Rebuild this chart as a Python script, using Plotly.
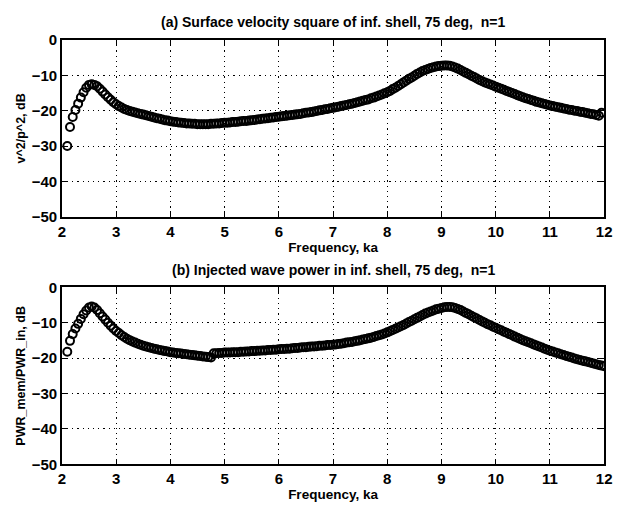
import plotly.graph_objects as go

# Frequency sweep (ka) shared by both panels
freq_ka = [
    2.10, 2.15, 2.20, 2.25, 2.30, 2.35, 2.40, 2.45, 2.50, 2.55,
    2.60, 2.65, 2.70, 2.75, 2.80, 2.85, 2.90, 2.95, 3.00, 3.05,
    3.10, 3.15, 3.20, 3.25, 3.30, 3.35, 3.40, 3.45, 3.50, 3.55,
    3.60, 3.65, 3.70, 3.75, 3.80, 3.85, 3.90, 3.95, 4.00, 4.05,
    4.10, 4.15, 4.20, 4.25, 4.30, 4.35, 4.40, 4.45, 4.50, 4.55,
    4.60, 4.65, 4.70, 4.75, 4.80, 4.85, 4.90, 4.95, 5.00, 5.05,
    5.10, 5.15, 5.20, 5.25, 5.30, 5.35, 5.40, 5.45, 5.50, 5.55,
    5.60, 5.65, 5.70, 5.75, 5.80, 5.85, 5.90, 5.95, 6.00, 6.05,
    6.10, 6.15, 6.20, 6.25, 6.30, 6.35, 6.40, 6.45, 6.50, 6.55,
    6.60, 6.65, 6.70, 6.75, 6.80, 6.85, 6.90, 6.95, 7.00, 7.05,
    7.10, 7.15, 7.20, 7.25, 7.30, 7.35, 7.40, 7.45, 7.50, 7.55,
    7.60, 7.65, 7.70, 7.75, 7.80, 7.85, 7.90, 7.95, 8.00, 8.05,
    8.10, 8.15, 8.20, 8.25, 8.30, 8.35, 8.40, 8.45, 8.50, 8.55,
    8.60, 8.65, 8.70, 8.75, 8.80, 8.85, 8.90, 8.95, 9.00, 9.05,
    9.10, 9.15, 9.20, 9.25, 9.30, 9.35, 9.40, 9.45, 9.50, 9.55,
    9.60, 9.65, 9.70, 9.75, 9.80, 9.85, 9.90, 9.95, 10.00, 10.05,
    10.10, 10.15, 10.20, 10.25, 10.30, 10.35, 10.40, 10.45, 10.50, 10.55,
    10.60, 10.65, 10.70, 10.75, 10.80, 10.85, 10.90, 10.95, 11.00, 11.05,
    11.10, 11.15, 11.20, 11.25, 11.30, 11.35, 11.40, 11.45, 11.50, 11.55,
    11.60, 11.65, 11.70, 11.75, 11.80, 11.85, 11.90, 11.95, 12.00,
]

# (a) surface velocity square, v^2/p^2 in dB (2.10 .. 11.95)
vel_sq_db = [
    -30.0, -24.6, -21.8, -19.8, -18.0, -16.3, -14.8, -13.5, -12.7, -12.5,
    -12.7, -13.1, -13.8, -14.6, -15.4, -16.2, -16.9, -17.6, -18.2, -18.7,
    -19.1, -19.5, -19.8, -20.1, -20.3, -20.5, -20.7, -20.9, -21.1, -21.3,
    -21.5, -21.7, -21.9, -22.1, -22.3, -22.5, -22.7, -22.8, -23.0, -23.1,
    -23.2, -23.3, -23.4, -23.5, -23.6, -23.6, -23.7, -23.7, -23.8, -23.8,
    -23.8, -23.8, -23.8, -23.7, -23.7, -23.6, -23.6, -23.5, -23.4, -23.4,
    -23.3, -23.2, -23.2, -23.1, -23.0, -22.9, -22.9, -22.8, -22.7, -22.6,
    -22.5, -22.4, -22.3, -22.2, -22.1, -22.0, -21.9, -21.8, -21.7, -21.6,
    -21.5, -21.4, -21.3, -21.2, -21.1, -21.0, -20.9, -20.7, -20.6, -20.5,
    -20.4, -20.2, -20.1, -19.9, -19.8, -19.6, -19.5, -19.3, -19.2, -19.0,
    -18.9, -18.7, -18.5, -18.4, -18.2, -18.0, -17.8, -17.6, -17.4, -17.2,
    -17.0, -16.8, -16.5, -16.3, -16.0, -15.7, -15.4, -15.1, -14.8, -14.4,
    -13.9, -13.5, -13.0, -12.5, -12.0, -11.5, -11.0, -10.6, -10.1, -9.6,
    -9.2, -8.8, -8.5, -8.2, -7.9, -7.7, -7.5, -7.4, -7.3, -7.2,
    -7.2, -7.3, -7.5, -7.8, -8.1, -8.5, -8.9, -9.3, -9.7, -10.1,
    -10.5, -10.9, -11.3, -11.7, -12.0, -12.3, -12.6, -12.9, -13.2, -13.5,
    -13.8, -14.1, -14.4, -14.7, -15.0, -15.3, -15.6, -15.9, -16.2, -16.5,
    -16.7, -17.0, -17.2, -17.5, -17.7, -17.9, -18.1, -18.3, -18.5, -18.7,
    -18.9, -19.0, -19.2, -19.4, -19.5, -19.7, -19.8, -20.0, -20.1, -20.3,
    -20.4, -20.6, -20.7, -20.9, -21.0, -21.2, -21.4, -20.6,
]

# (b) injected wave power, PWR_mem/PWR_in in dB (2.10 .. 12.00)
inj_pwr_db = [
    -18.2, -15.1, -13.2, -11.6, -10.3, -8.9, -7.6, -6.5, -5.7, -5.4,
    -5.7, -6.4, -7.3, -8.2, -9.1, -10.0, -10.8, -11.6, -12.3, -12.9,
    -13.5, -14.0, -14.5, -14.9, -15.3, -15.6, -15.9, -16.2, -16.5, -16.7,
    -16.9, -17.1, -17.3, -17.5, -17.7, -17.8, -18.0, -18.1, -18.3, -18.4,
    -18.5, -18.6, -18.7, -18.8, -18.9, -19.0, -19.1, -19.2, -19.3, -19.4,
    -19.5, -19.6, -19.7, -19.8, -18.6, -18.6, -18.5, -18.5, -18.4, -18.4,
    -18.4, -18.3, -18.3, -18.3, -18.2, -18.2, -18.1, -18.1, -18.0, -18.0,
    -17.9, -17.9, -17.8, -17.8, -17.7, -17.7, -17.6, -17.6, -17.5, -17.4,
    -17.4, -17.3, -17.3, -17.2, -17.1, -17.1, -17.0, -16.9, -16.9, -16.8,
    -16.7, -16.7, -16.6, -16.5, -16.5, -16.4, -16.3, -16.3, -16.2, -16.1,
    -16.0, -15.9, -15.8, -15.6, -15.5, -15.4, -15.2, -15.1, -14.9, -14.7,
    -14.6, -14.4, -14.2, -14.0, -13.7, -13.5, -13.3, -13.0, -12.7, -12.4,
    -12.0, -11.7, -11.3, -11.0, -10.6, -10.2, -9.8, -9.4, -9.0, -8.6,
    -8.2, -7.8, -7.4, -7.1, -6.8, -6.5, -6.2, -6.0, -5.8, -5.6,
    -5.5, -5.5, -5.6, -5.8, -6.1, -6.4, -6.8, -7.2, -7.6, -8.0,
    -8.4, -8.8, -9.2, -9.6, -10.0, -10.4, -10.7, -11.1, -11.4, -11.8,
    -12.1, -12.5, -12.8, -13.2, -13.5, -13.9, -14.2, -14.6, -14.9, -15.2,
    -15.5, -15.8, -16.1, -16.4, -16.7, -17.0, -17.3, -17.6, -17.9, -18.1,
    -18.4, -18.6, -18.9, -19.1, -19.4, -19.6, -19.8, -20.1, -20.3, -20.5,
    -20.7, -20.9, -21.1, -21.3, -21.5, -21.7, -21.9, -22.1, -22.3,
]

x_ticks = [2, 3, 4, 5, 6, 7, 8, 9, 10, 11, 12]
y_ticks = [0, -10, -20, -30, -40, -50]

panel_titles = [
    "(a) Surface velocity square of inf. shell, 75 deg,  n=1",
    "(b) Injected wave power in inf. shell, 75 deg,  n=1",
]
x_label = "Frequency, ka"
y_labels = ["v^2/p^2, dB", "PWR_mem/PWR_in, dB"]

W, H = 623, 511
FONT = "Liberation Sans"


def txt(size):
    return dict(family=FONT, size=size, color="black", weight="bold")


fig = go.Figure()
marker_style = dict(symbol="circle-open", size=8, color="black",
                    line=dict(color="black", width=2))

fig.add_trace(go.Scatter(x=freq_ka[:len(vel_sq_db)], y=vel_sq_db, mode="markers",
                         marker=marker_style, xaxis="x", yaxis="y", showlegend=False))
fig.add_trace(go.Scatter(x=freq_ka[:len(inj_pwr_db)], y=inj_pwr_db, mode="markers",
                         marker=marker_style, xaxis="x2", yaxis="y2", showlegend=False))

x_dom = [59 / W, 612 / W]
y_dom_a = [1 - 215 / H, 1 - 32 / H]
y_dom_b = [1 - 471 / H, 1 - 288 / H]

grid = dict(showgrid=True, gridcolor="black", gridwidth=1, griddash="1.2px,4px",
            zeroline=False, ticks="inside", ticklen=6, tickwidth=1.2,
            tickcolor="black", showline=True, linecolor="black", linewidth=1.5,
            mirror="ticks", tickfont=txt(15))
common_x = dict(range=[2, 12], tickvals=x_ticks,
                title=dict(text=x_label, font=txt(13.5), standoff=1), **grid)
common_y = dict(range=[-50, 0], tickvals=y_ticks, **grid)

fig.update_layout(
    width=W, height=H,
    margin=dict(l=0, r=0, t=0, b=0),
    paper_bgcolor="white", plot_bgcolor="white",
    xaxis=dict(domain=x_dom, anchor="y", **common_x),
    yaxis=dict(domain=y_dom_a, anchor="x",
               title=dict(text=y_labels[0], font=txt(12.5), standoff=3), **common_y),
    xaxis2=dict(domain=x_dom, anchor="y2", **common_x),
    yaxis2=dict(domain=y_dom_b, anchor="x2",
                title=dict(text=y_labels[1], font=txt(12.5), standoff=3), **common_y),
)

for title, y_top in zip(panel_titles, [y_dom_a[1], y_dom_b[1]]):
    fig.add_annotation(text=title, xref="paper", yref="paper",
                       x=(x_dom[0] + x_dom[1]) / 2, y=y_top + 8 / H,
                       xanchor="center", yanchor="bottom", showarrow=False,
                       font=txt(14))

fig.write_html("out.html")
